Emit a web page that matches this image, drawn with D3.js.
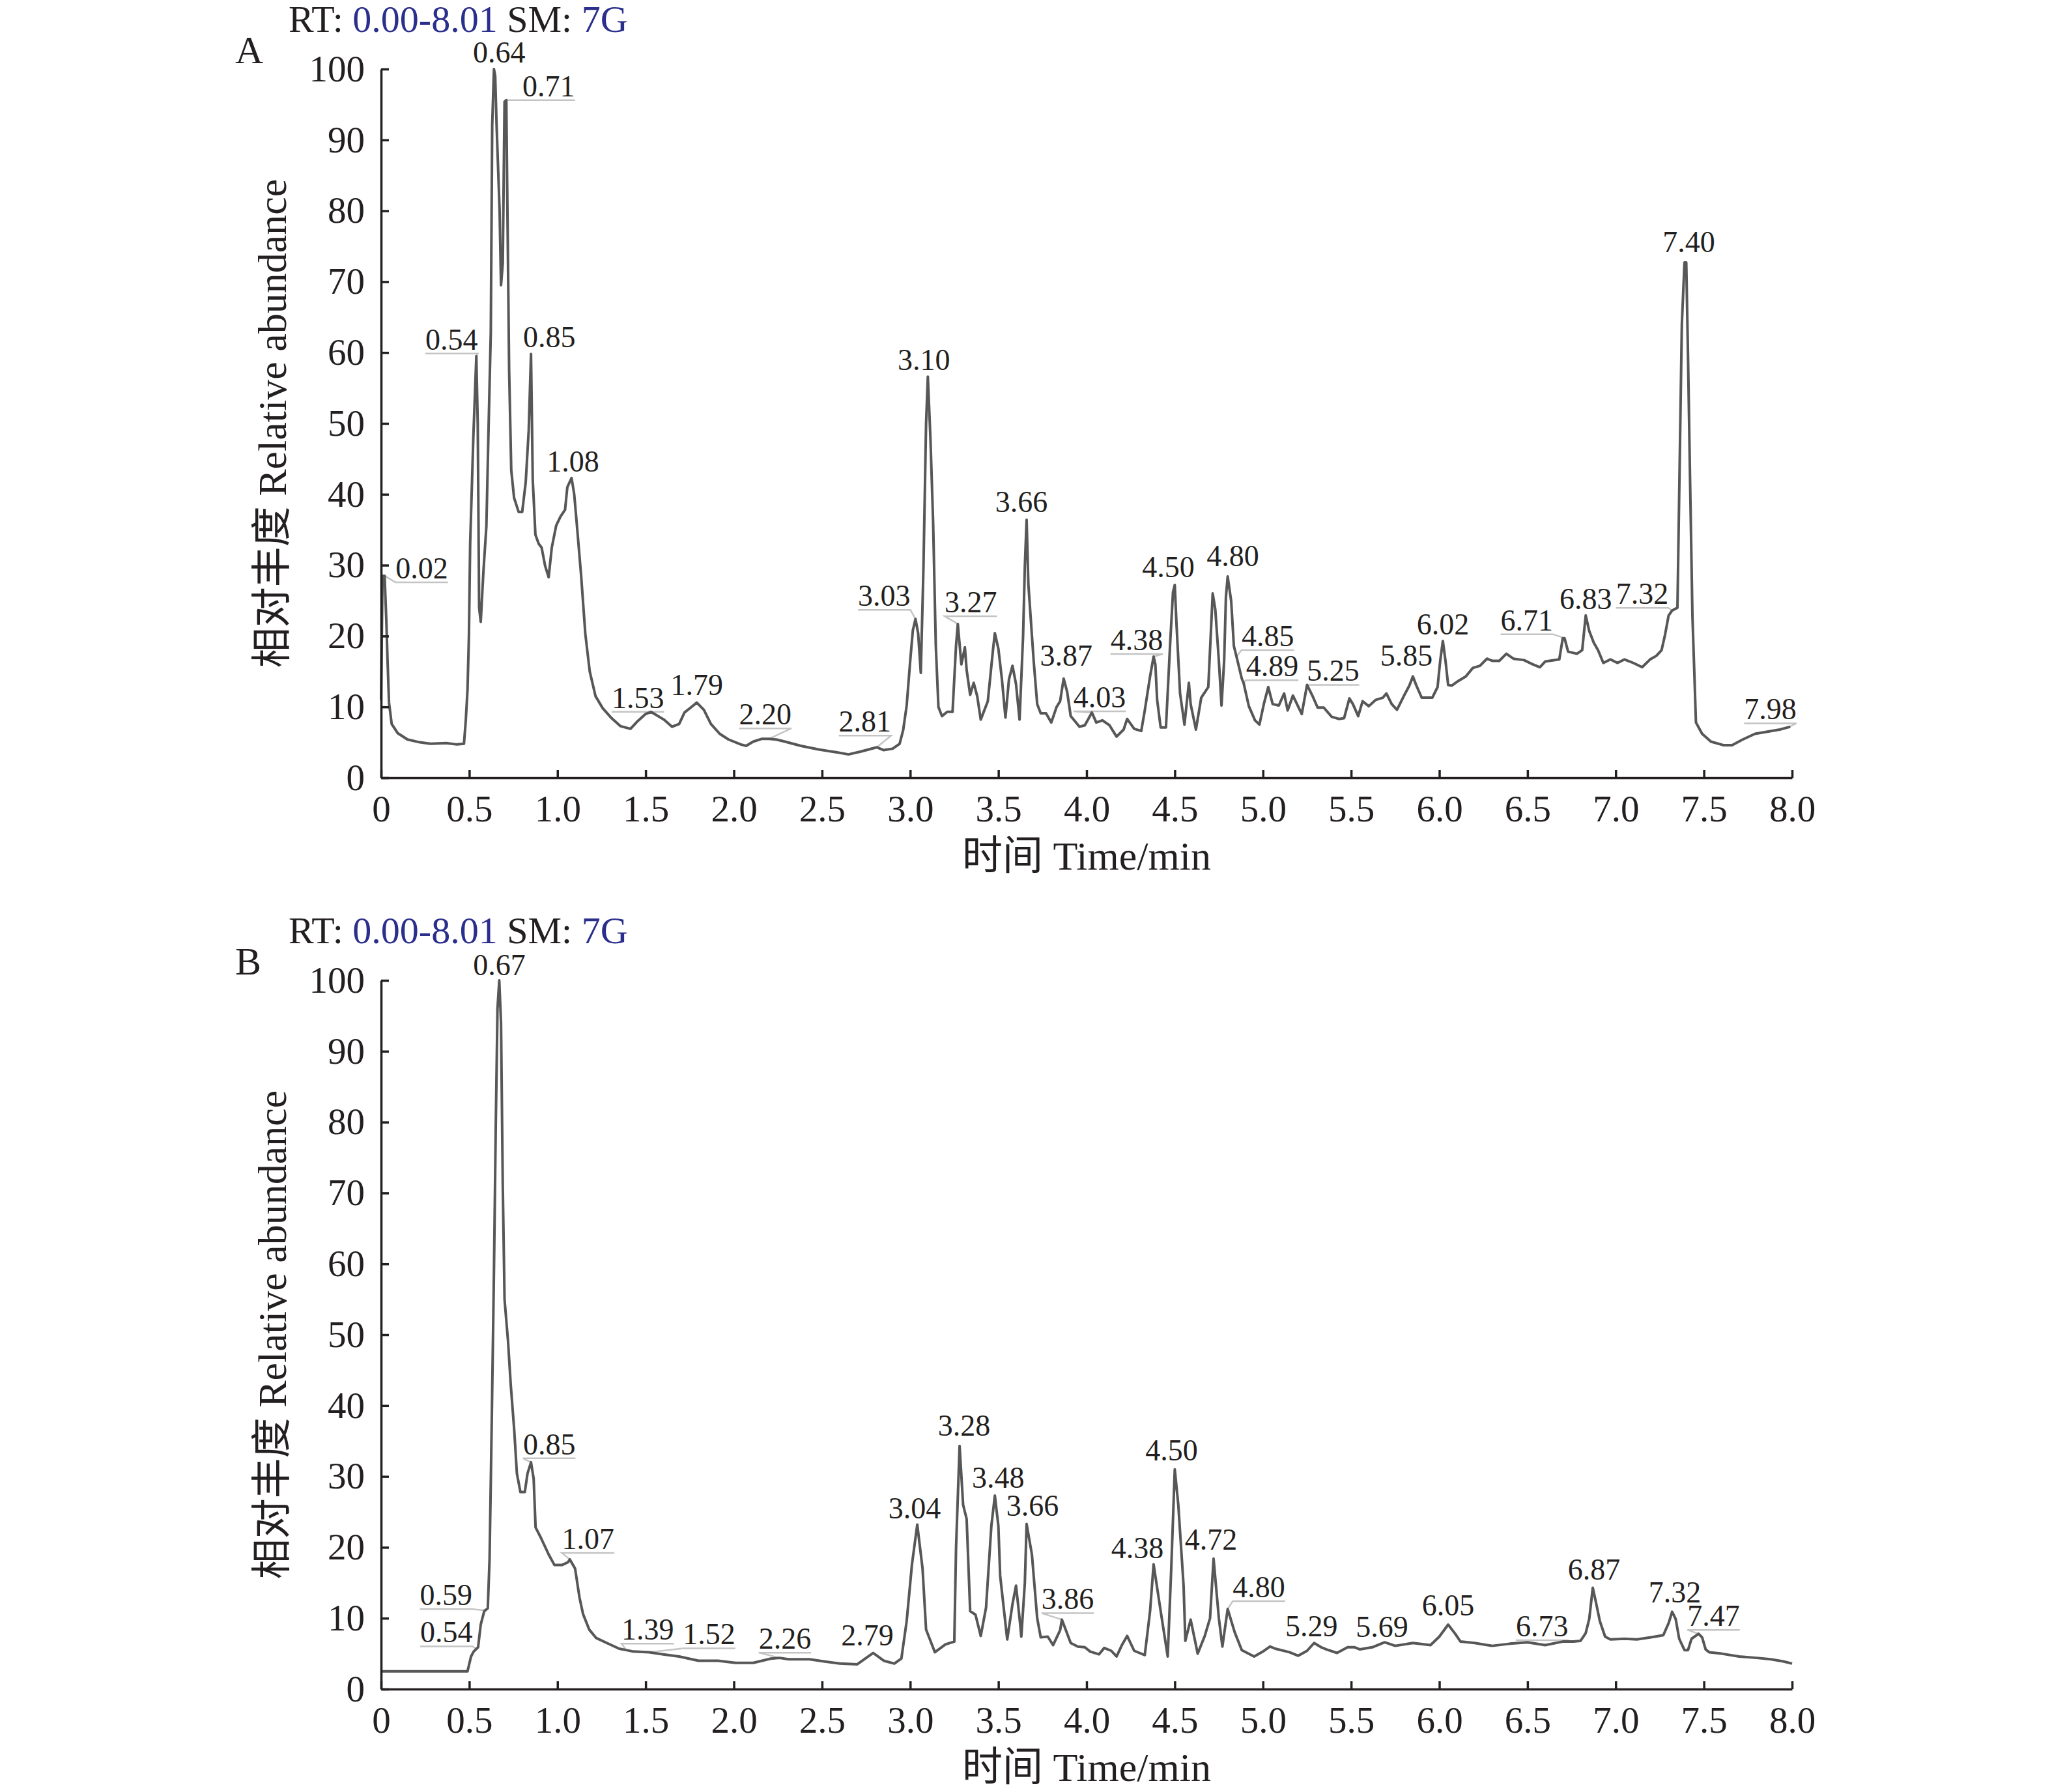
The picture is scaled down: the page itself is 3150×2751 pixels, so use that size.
<!DOCTYPE html>
<meta charset="utf-8">
<script src="https://d3js.org/d3.v7.min.js"></script>
<style>
  body { margin: 0; background: #fff; }
  text { font-family: "Liberation Serif", "Times New Roman", "Noto Sans CJK SC", serif; fill: #231f20; }
</style>
<div id="viz"></div>
<script>

// ---- data ----
const timeA = [0.000,0.008,0.020,0.030,0.036,0.045,0.060,0.094,0.150,0.220,0.280,0.370,0.430,0.470,0.480,0.490,0.498,0.505,0.523,0.540,
  0.548,0.556,0.565,0.580,0.597,0.610,0.622,0.630,0.640,0.647,0.655,0.672,0.680,0.690,0.700,0.710,0.716,0.726,0.738,0.754,
  0.780,0.800,0.820,0.837,0.850,0.860,0.875,0.894,0.910,0.930,0.950,0.968,0.993,1.018,1.043,1.056,1.080,1.095,1.109,1.134,
  1.158,1.183,1.216,1.257,1.307,1.356,1.414,1.455,1.500,1.530,1.604,1.650,1.690,1.720,1.760,1.790,1.830,1.870,1.920,1.970,
  2.040,2.070,2.110,2.160,2.200,2.240,2.290,2.380,2.480,2.580,2.650,2.720,2.810,2.850,2.900,2.940,2.960,2.980,3.000,3.015,
  3.030,3.045,3.060,3.075,3.090,3.100,3.115,3.130,3.145,3.160,3.180,3.210,3.240,3.260,3.270,3.290,3.310,3.320,3.340,3.360,
  3.380,3.400,3.440,3.470,3.480,3.500,3.520,3.540,3.560,3.580,3.600,3.620,3.640,3.650,3.660,3.670,3.700,3.720,3.740,3.770,
  3.800,3.830,3.850,3.870,3.890,3.910,3.960,3.990,4.030,4.055,4.090,4.130,4.170,4.210,4.230,4.270,4.310,4.330,4.360,4.380,
  4.390,4.400,4.420,4.450,4.475,4.490,4.500,4.510,4.530,4.555,4.580,4.590,4.620,4.650,4.690,4.705,4.715,4.730,4.750,4.765,
  4.780,4.790,4.800,4.820,4.835,4.850,4.880,4.890,4.920,4.955,4.980,5.005,5.030,5.055,5.090,5.120,5.140,5.170,5.220,5.250,
  5.280,5.310,5.345,5.390,5.430,5.460,5.490,5.510,5.540,5.565,5.600,5.640,5.680,5.700,5.730,5.760,5.800,5.830,5.850,5.870,
  5.900,5.960,5.990,6.005,6.020,6.035,6.050,6.070,6.110,6.150,6.190,6.230,6.270,6.300,6.340,6.380,6.420,6.480,6.530,6.570,
  6.600,6.680,6.700,6.710,6.730,6.780,6.810,6.830,6.850,6.875,6.900,6.930,6.970,7.010,7.050,7.100,7.150,7.195,7.230,7.260,
  7.280,7.300,7.320,7.350,7.360,7.375,7.390,7.400,7.410,7.420,7.435,7.455,7.490,7.540,7.610,7.660,7.720,7.790,7.860,7.930,
  7.990];
const abundA = [11,28.5,28.5,22,17,10.6,7.6,6.3,5.4,5.0,4.8,4.9,4.7,4.8,8,12.4,20,33,48,59.5,
  50,24,22,29,35.5,50,62.8,92,100,99,92,80,69.5,72.6,95.4,95.6,81,57.5,43.4,39.5,
  37.5,37.5,41.7,49,59.8,42,34.3,33,32.5,29.9,28.3,32.5,35.6,36.9,37.8,41,42.3,40,36,28.6,
  20.3,15,11.5,9.8,8.4,7.3,6.9,8,9.0,9.3,8.2,7.2,7.6,9.2,10.0,10.6,9.6,7.6,6.2,5.4,
  4.7,4.5,5.1,5.5,5.5,5.4,5.1,4.5,4.0,3.6,3.3,3.7,4.3,3.9,4.1,4.8,6.7,10.2,16.5,20.8,
  22.4,20.4,14.8,29.5,50,56.6,47.7,36,18.7,10,8.7,9.3,9.3,18.7,21.7,16,18.4,15.2,11.7,13.4,
  11.5,8.2,10.8,18.2,20.4,18.2,13.9,8.5,13.9,15.8,13.2,8.2,20,29.9,36.4,27.3,16.5,10.4,9.1,9.1,
  7.8,10,10.8,14,12.1,8.7,7.2,7.4,9.2,7.8,8.1,7.4,5.8,6.8,8.3,6.9,6.6,9.5,14.3,17.1,
  16,11,7.1,7.1,19.5,26.2,27.2,21.6,11.9,7.5,13.4,10.4,6.8,11.3,12.8,20.7,26,23.7,16.5,10.2,
  16.5,25.5,28.4,24.9,18.6,17.1,14,13.4,10.1,8.1,7.5,10.4,12.8,10.4,10.2,11.9,9.5,11.6,9.0,13.1,
  11.6,9.9,9.9,8.6,8.3,8.4,11.2,10.4,8.7,10.8,10.1,11,11.3,11.9,10.4,9.6,11.6,13,14.3,13,
  11.3,11.3,12.8,16.5,19.3,16.5,13.1,13,13.7,14.3,15.5,15.8,16.8,16.5,16.5,17.5,16.8,16.6,16.0,15.6,
  16.4,16.7,19.7,19.7,17.8,17.5,18,22.9,20.7,19.1,18,16.2,16.7,16.2,16.7,16.2,15.6,16.7,17.2,18,
  20.2,22.9,23.6,24,40,64,72.7,72.7,59.5,44.4,22.9,7.8,6.2,5.1,4.6,4.6,5.4,6.2,6.5,6.8,
  7.2];

const timeB = [0.000,0.490,0.510,0.525,0.550,0.565,0.585,0.605,0.615,0.627,0.640,0.650,0.660,0.670,0.680,0.690,0.700,0.720,0.735,0.755,
  0.770,0.790,0.815,0.830,0.850,0.865,0.876,0.907,0.950,0.983,1.025,1.060,1.070,1.100,1.125,1.145,1.180,1.220,1.280,1.350,
  1.390,1.430,1.520,1.600,1.690,1.800,1.910,2.010,2.110,2.210,2.260,2.310,2.430,2.510,2.600,2.700,2.790,2.850,2.910,2.950,
  2.980,3.010,3.040,3.070,3.090,3.140,3.200,3.250,3.260,3.280,3.300,3.320,3.340,3.370,3.400,3.430,3.460,3.480,3.500,3.510,
  3.550,3.580,3.600,3.620,3.630,3.650,3.660,3.690,3.720,3.740,3.780,3.810,3.850,3.860,3.910,3.950,3.990,4.020,4.070,4.100,
  4.140,4.170,4.200,4.230,4.270,4.330,4.360,4.380,4.420,4.460,4.480,4.500,4.520,4.550,4.560,4.590,4.630,4.670,4.700,4.720,
  4.750,4.770,4.800,4.840,4.880,4.950,5.000,5.040,5.070,5.150,5.200,5.250,5.290,5.330,5.360,5.420,5.480,5.520,5.550,5.620,
  5.690,5.750,5.850,5.950,6.000,6.050,6.090,6.120,6.200,6.300,6.400,6.500,6.600,6.700,6.760,6.800,6.830,6.850,6.870,6.890,
  6.910,6.940,6.970,7.050,7.120,7.200,7.270,7.300,7.320,7.340,7.360,7.390,7.410,7.430,7.470,7.490,7.510,7.530,7.600,7.700,
  7.800,7.880,7.950,8.000];
const abundB = [2.5,2.5,4.6,5.3,5.9,9.1,11,11.4,18.3,37,59,79,96,100,94,71,55,49,43,36.5,
  30.4,27.8,27.8,30.4,32,29.7,22.8,21.3,19,17.5,17.5,17.9,18.3,17,12.9,10.6,8.4,7.2,6.5,5.7,
  5.5,5.3,5.2,4.9,4.6,4.0,4.0,3.7,3.7,4.3,4.4,4.2,4.2,3.9,3.6,3.5,5.1,4.0,3.6,4.3,
  9.6,17.6,23.2,17,8.4,5.2,6.3,6.7,20,34.3,26,24,11,10.5,7.5,11.5,23,27.3,23,16,
  7,12,14.6,10,7.4,15,23.3,19,10,7.3,7.4,6.2,8.3,9.8,6.5,6,5.9,5.3,4.9,5.8,
  5.4,4.6,6.2,7.5,5.4,4.8,11,17.6,11,4.6,17,31,26,14.6,6.8,9.8,5.0,7.5,10,18.4,
  10,6.0,11.3,8,5.5,4.6,5.3,6.0,5.7,5.2,4.7,5.4,6.5,5.9,5.6,5.1,5.9,5.9,5.6,5.9,
  6.6,6.1,6.5,6.2,7.4,9.1,7.8,6.7,6.5,6.1,6.4,6.6,6.2,6.7,6.7,6.8,7.9,9.9,14.3,12,
  9.6,7.4,7.0,7.1,7.0,7.3,7.6,9.3,10.9,9.9,7.1,5.5,5.5,7.1,7.8,7.3,5.6,5.2,5.0,4.6,
  4.4,4.2,3.9,3.6];

const peakLabelsA = ["0.02","0.54","0.64","0.71","0.85","1.08","1.53","1.79","2.20","2.81","3.03","3.10","3.27","3.66","3.87",
  "4.03","4.38","4.50","4.80","4.85","4.89","5.25","5.85","6.02","6.71","6.83","7.32","7.40","7.98"];
const peakLabelsB = ["0.54","0.59","0.67","0.85","1.07","1.39","1.52","2.26","2.79","3.04","3.28","3.48","3.66","3.86",
  "4.38","4.50","4.72","4.80","5.29","5.69","6.05","6.73","6.87","7.32","7.47"];

const xTickValues = [0,0.5,1.0,1.5,2.0,2.5,3.0,3.5,4.0,4.5,5.0,5.5,6.0,6.5,7.0,7.5,8.0];
const yTickValues = [0,10,20,30,40,50,60,70,80,90,100];
const rtRange = "0.00-8.01";
const smoothing = "7G";
const panelNames = ["A", "B"];

// ---- label placement (px offsets from the peak top: dx to label centre, dy to baseline, leader?) ----
const nudgeA = {
  "0.02":[57,4,1], "0.54":[-38,-10,1], "0.64":[8,-10,0], "0.71":[65,-6,1], "0.85":[28,-10,0], "1.08":[2,-10,0],
  "1.53":[-20,-6,1], "1.79":[0,-12,0], "2.20":[-6,-22,1], "2.81":[-18,-24,1], "3.03":[-48,-20,1], "3.10":[-6,-10,0],
  "3.27":[20,-18,1], "3.66":[-8,-12,0], "3.87":[4,-20,0], "4.03":[12,-8,1], "4.38":[-26,-10,1], "4.50":[-10,-12,0],
  "4.80":[8,-16,0], "4.85":[48,-16,1], "4.89":[44,-10,1], "5.25":[40,-6,1], "5.85":[-10,-16,0], "6.02":[0,-10,0],
  "6.71":[-58,-12,1], "6.83":[0,-10,0], "7.32":[-46,-10,1], "7.40":[4,-16,0], "7.98":[-28,-12,1]
};
const nudgeB = {
  "0.54":[-46,-10,1], "0.59":[-60,-8,1], "0.67":[0,-8,0], "0.85":[28,-12,1], "1.07":[28,-16,1], "1.39":[33,-16,1],
  "1.52":[92,-12,1], "2.26":[8,-14,1], "2.79":[-9,-12,0], "3.04":[-4,-10,0], "3.28":[7,-16,0], "3.48":[5,-12,0],
  "3.66":[9,-12,0], "3.86":[9,-16,1], "4.38":[-25,-10,0], "4.50":[-5,-14,0], "4.72":[-4,-14,0], "4.80":[48,-18,1],
  "5.29":[-4,-10,0], "5.69":[-4,-8,0], "6.05":[0,-14,0], "6.73":[-40,-8,1], "6.87":[2,-12,0], "7.32":[4,-14,0],
  "7.47":[23,-12,1]
};

const W = 3150, H = 2751;
const left = 585, right = 2751;

const svg = d3.select("#viz").append("svg")
  .attr("width", W).attr("height", H)
  .style("display", "block");

const x = d3.scaleLinear().domain([0, 8]).range([left, right]);

const panels = [
  { name: panelNames[0], top: 106, bottom: 1194, time: timeA, abund: abundA, labels: peakLabelsA, nudge: nudgeA },
  { name: panelNames[1], top: 1505, bottom: 2593, time: timeB, abund: abundB, labels: peakLabelsB, nudge: nudgeB }
];

function valueAt(times, vals, t) {
  const i = d3.bisectLeft(times, t);
  if (i <= 0) return vals[0];
  if (i >= times.length) return vals[vals.length - 1];
  const t0 = times[i - 1], t1 = times[i];
  const f = (t - t0) / (t1 - t0);
  return vals[i - 1] + f * (vals[i] - vals[i - 1]);
}

panels.forEach(p => {
  const y = d3.scaleLinear().domain([0, 100]).range([p.bottom, p.top]);
  const g = svg.append("g");

  // header "RT: ... SM: ..."
  const rt = g.append("text")
    .attr("x", 443).attr("y", p.top - 57)
    .attr("font-size", 58);
  rt.append("tspan").text("RT: ");
  rt.append("tspan").style("fill", "#2b2f8c").text(rtRange);
  rt.append("tspan").text(" SM: ");
  rt.append("tspan").style("fill", "#2b2f8c").text(smoothing);

  g.append("text")
    .attr("x", 361).attr("y", p.top - 9)
    .attr("font-size", 60)
    .text(p.name);

  // trace
  const pts = p.time.map((t, i) => [t, p.abund[i]]);
  g.append("path")
    .datum(pts)
    .attr("fill", "none")
    .attr("stroke", "#575757")
    .attr("stroke-width", 4)
    .attr("stroke-linejoin", "round")
    .attr("d", d3.line().x(d => x(d[0])).y(d => y(d[1])));

  // axes, ticks pointing inward
  const ax = g.append("g")
    .attr("transform", `translate(0,${p.bottom})`)
    .call(d3.axisBottom(x).tickValues(xTickValues).tickSize(-12).tickSizeOuter(0).tickPadding(27)
      .tickFormat(d => d === 0 ? "0" : d3.format(".1f")(d)));
  const ay = g.append("g")
    .attr("transform", `translate(${left},0)`)
    .call(d3.axisLeft(y).tickValues(yTickValues).tickSize(-12).tickSizeOuter(0).tickPadding(25));
  [ax, ay].forEach(a => {
    a.attr("font-family", null);
    a.selectAll("path, line").attr("stroke", "#231f20").attr("stroke-width", 3.5);
    a.selectAll("text").attr("font-size", 57).attr("fill", "#231f20");
  });

  // axis titles
  g.append("text")
    .attr("x", (left + right) / 2).attr("y", p.bottom + 141)
    .attr("text-anchor", "middle").attr("font-size", 62)
    .text("时间 Time/min");
  g.append("text")
    .attr("transform", `translate(439,${(p.top + p.bottom) / 2}) rotate(-90)`)
    .attr("text-anchor", "middle").attr("font-size", 62)
    .text("相对丰度 Relative abundance");

  // peak labels
  p.labels.forEach(lbl => {
    const t = +lbl;
    const px = x(t), py = y(valueAt(p.time, p.abund, t));
    const [dx, dy, lead] = p.nudge[lbl];
    const lx = px + dx, ly = py + dy;
    const txt = g.append("text")
      .attr("x", lx).attr("y", ly)
      .attr("text-anchor", "middle")
      .attr("font-size", 46)
      .text(lbl);
    if (lead) {
      const w = txt.node().getComputedTextLength();
      const near = dx < 0 ? lx + w / 2 : lx - w / 2;
      const far = dx < 0 ? lx - w / 2 : lx + w / 2;
      const ul = ly + 6;
      g.insert("polyline", "path")
        .attr("points", `${far},${ul} ${near},${ul} ${px},${py}`)
        .attr("fill", "none")
        .attr("stroke", "#c4c4c4")
        .attr("stroke-width", 2.5);
    }
  });
});

</script>
